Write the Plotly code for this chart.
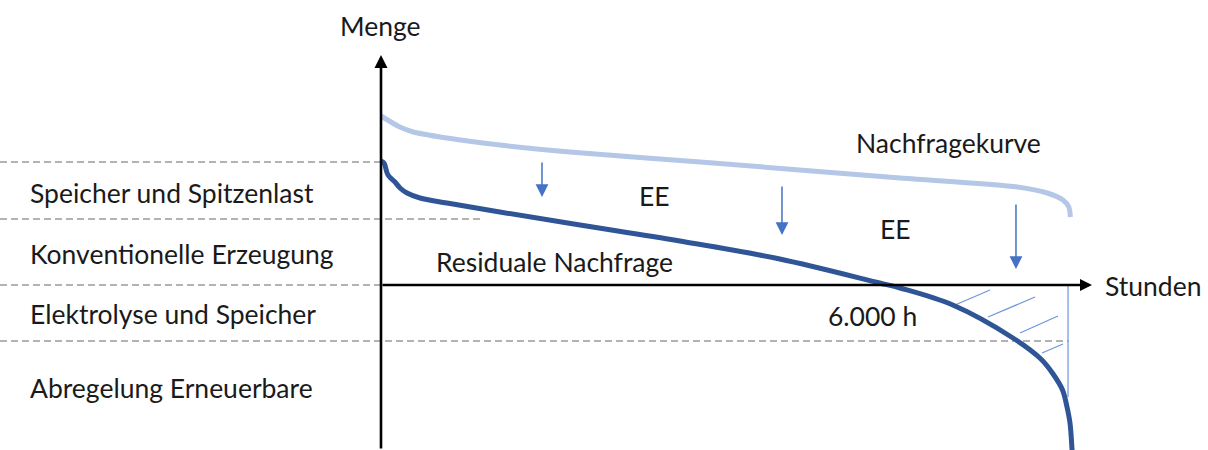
import plotly.graph_objects as go

# ---------------- data (hours of the year, arbitrary quantity units) ----------------
hours_demand = [0, 240, 410, 840, 1510, 2400, 4060, 6600, 8090, 8470, 8670, 8745, 8765]
demand = [84.5, 79, 76.5, 73.5, 70, 66.5, 61.5, 53.5, 49, 46, 42.5, 39, 34]

hours_residual = [0, 38, 89, 178, 242, 331, 496, 840, 1510, 2530, 3800, 5070, 6340,
                  6600, 7270, 8035, 8390, 8545, 8665, 8722, 8760, 8786, 8790]
residual = [62, 61, 55, 51.5, 48.5, 46, 43.5, 41, 36.5, 30, 22, 13, 1,
            -1.5, -10, -26.5, -37, -44.5, -52.5, -61, -69, -82.5, -86]

band_levels = [61.5, 33, 0, -28]
band_ends = [0, 1300, 0, 8740]
band_labels = ["Speicher und Spitzenlast", "Konventionelle Erzeugung",
               "Elektrolyse und Speicher", "Abregelung Erneuerbare"]
band_label_y = [193, 254, 314, 388]  # pixel rows of label centers

ee_arrow_hours = [2047, 5098, 8073]
ee_arrow_from = [62, 50, 41]
ee_arrow_to = [44, 25, 8]

hatch_x0 = [7298, 7717, 8124, 8404]
hatch_y0 = [-10, -16, -24, -34]
hatch_x1 = [7743, 8315, 8607, 8671]
hatch_y1 = [-2.5, -6, -15.5, -29.5]
hatch_edge_hours = 8735
hatch_edge_bottom = -56

x_axis_end = 9040
y_axis_top = 115

# ---------------- layout constants ----------------
W, H = 1208, 450
X_MIN, X_MAX = -4844.1, 10514.5
Y_MIN, Y_MAX = -82.5, 142.5
FONT = "Lato, Carlito, 'Open Sans', sans-serif"
TXT = "#1a1a1a"
FS = 26.5

fig = go.Figure()

# band dashed lines
for lvl, end in zip(band_levels, band_ends):
    fig.add_trace(go.Scatter(x=[X_MIN, end], y=[lvl, lvl], mode="lines",
                             line=dict(color="#9a9a9a", width=1.6, dash="7px,4px"),
                             hoverinfo="skip", showlegend=False))

# hatch
for x0, y0, x1, y1 in zip(hatch_x0, hatch_y0, hatch_x1, hatch_y1):
    fig.add_trace(go.Scatter(x=[x0, x1], y=[y0, y1], mode="lines",
                             line=dict(color="#6d95db", width=1.2),
                             hoverinfo="skip", showlegend=False))
fig.add_trace(go.Scatter(x=[hatch_edge_hours, hatch_edge_hours], y=[0, hatch_edge_bottom],
                         mode="lines", line=dict(color="#6d95db", width=1.2),
                         hoverinfo="skip", showlegend=False))

# demand curve
fig.add_trace(go.Scatter(x=hours_demand, y=demand, mode="lines",
                         line=dict(color="#b4c7e7", width=5, shape="spline", smoothing=0.8),
                         hoverinfo="skip", showlegend=False))
# residual demand curve
fig.add_trace(go.Scatter(x=hours_residual, y=residual, mode="lines",
                         line=dict(color="#2f5597", width=5, shape="spline", smoothing=1.0),
                         hoverinfo="skip", showlegend=False))

annotations = []
# axes arrows
annotations.append(dict(x=0, y=y_axis_top, ax=0, ay=Y_MIN, xref="x", yref="y",
                        axref="x", ayref="y", text="", showarrow=True, arrowhead=2,
                        arrowsize=1, arrowwidth=2.6, arrowcolor="black", standoff=0))
annotations.append(dict(x=x_axis_end, y=0, ax=0, ay=0, xref="x", yref="y",
                        axref="x", ayref="y", text="", showarrow=True, arrowhead=2,
                        arrowsize=1, arrowwidth=2.4, arrowcolor="black", standoff=0))
# EE arrows
for hx, yf, yt in zip(ee_arrow_hours, ee_arrow_from, ee_arrow_to):
    annotations.append(dict(x=hx, y=yt, ax=hx, ay=yf, xref="x", yref="y",
                            axref="x", ayref="y", text="", showarrow=True, arrowhead=2,
                            arrowsize=1.7, arrowwidth=1.5, arrowcolor="#4472c4", standoff=0))


def label(text, px, py, anchor="center", size=FS):
    annotations.append(dict(x=px / W, y=1 - py / H, xref="paper", yref="paper",
                            text=text, showarrow=False, xanchor=anchor, yanchor="middle",
                            font=dict(family=FONT, size=size, color=TXT)))


for t, py in zip(band_labels, band_label_y):
    label(t, 28, py, anchor="left")

label("Menge", 380, 26)
label("Nachfragekurve", 948, 143)
label("EE", 654, 196)
label("EE", 895, 229)
label("Residuale Nachfrage", 554, 262)
label("6.000 h", 872, 316)
label("Stunden", 1103, 286, anchor="left")

fig.update_layout(
    width=W, height=H,
    margin=dict(l=0, r=0, t=0, b=0),
    paper_bgcolor="white", plot_bgcolor="white",
    xaxis=dict(range=[X_MIN, X_MAX], visible=False, fixedrange=True),
    yaxis=dict(range=[Y_MIN, Y_MAX], visible=False, fixedrange=True),
    annotations=annotations,
    showlegend=False,
)

fig.write_html("out.html", config={"displayModeBar": False},
               post_script="document.body.style.margin='0px';document.body.style.overflow='hidden';")
